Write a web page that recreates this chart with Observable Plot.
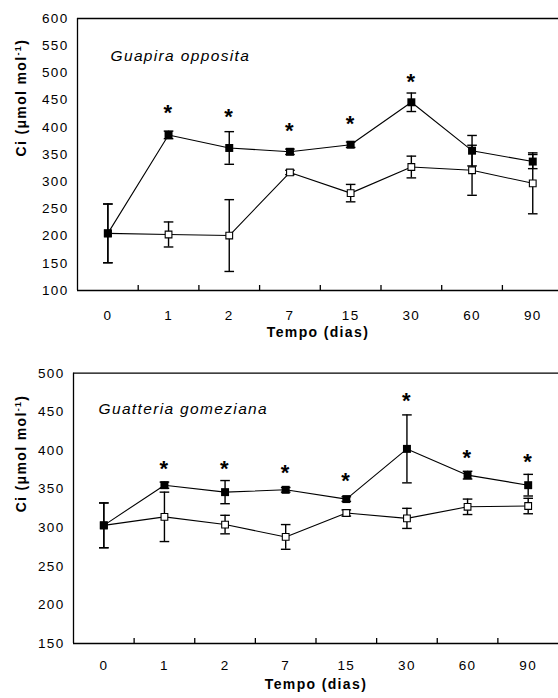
<!DOCTYPE html>
<html><head><meta charset="utf-8">
<script src="https://cdn.jsdelivr.net/npm/d3@7"></script>
<script src="https://cdn.jsdelivr.net/npm/@observablehq/plot@0.6"></script>
<style>
html,body{margin:0;padding:0;background:#fff;overflow:hidden}
#chart svg{display:block}
</style></head><body><div id="chart"></div>
<script>
const days = ["0","1","2","7","15","30","60","90"];

const guapiraStressed    = [205, 386, 362, 355, 368, 446, 357, 337];
const guapiraStressedErr = [54, 7, 30, 5, 5, 17, 28, 13];
const guapiraControl     = [205, 203, 201, 317, 279, 327, 321, 297];
const guapiraControlErr  = [54, 23, 66, 4, 16, 20, 46, 56];
const guapiraStars       = [null, 437, 429, 403, 417, 493, null, null];

const guatteriaStressed    = [303, 355, 346, 349, 337, 402, 368, 355];
const guatteriaStressedErr = [29, 4, 15, 3, 3, 44, 5, 14];
const guatteriaControl     = [303, 314, 304, 288, 319, 312, 327, 328];
const guatteriaControlErr  = [29, 32, 12, 16, 4, 13, 10, 10];
const guatteriaStars       = [null, 383, 383, 378, 367, 471, 397, 392];

const guapiraTicks = d3.range(100, 601, 50);
const guatteriaTicks = d3.range(150, 501, 50);

const yLabel = "Ci (μmol mol-1)";
const xLabel = "Tempo (dias)";

const cap = {draw(ctx, size){ const w = Math.sqrt(size/Math.PI); ctx.moveTo(-w,0); ctx.lineTo(w,0); }};

function panel(o){
  const ctrl = days.map((d,i)=>({i, mean:o.control[i], err:o.controlErr[i]}));
  const str = days.map((d,i)=>({i, mean:o.stressed[i], err:o.stressedErr[i]}));
  const all = ctrl.concat(str);
  const stars = days.map((d,i)=>({i, y:o.stars[i]})).filter(d=>d.y!=null);
  const [y0,y1] = o.yDomain;
  const svg = Plot.plot({
    width: 558, height: o.height,
    marginTop: o.marginTop, marginBottom: o.marginBottom, marginLeft: o.marginLeft, marginRight: 0,
    style: {fontFamily: "'Liberation Sans', Arial, sans-serif", fontSize: "13.5px", color: "#000", background: "#fff", letterSpacing: "0.1em", overflow: "hidden"},
    x: {type: "linear", domain: [-0.5, days.length - 0.5], range: o.xRange, label: null},
    y: {domain: o.yDomain, label: null},
    marks: [
      Plot.axisY({ticks: o.yTicks, tickSize: 0, tickPadding: 9, label: null, fontSize: 13.5}),
      Plot.axisX(d3.range(days.length), {tickSize: 0, tickPadding: o.xPad, tickFormat: i => days[i], label: null, fontSize: 13.5}),
      Plot.ruleY([y1], {strokeWidth: 1.3}),
      Plot.ruleY([y0], {strokeWidth: 1.3}),
      Plot.ruleX([-0.5], {strokeWidth: 1.3}),
      Plot.ruleX(d3.range(0.5, days.length - 1, 1), {y1: y0, y2: y0, insetBottom: 5, strokeWidth: 1.3}),
      Plot.line(ctrl, {x: "i", y: "mean", stroke: "black", strokeWidth: 1.1}),
      Plot.line(str, {x: "i", y: "mean", stroke: "black", strokeWidth: 1.1}),
      Plot.ruleX(all, {x: "i", y1: d => d.mean - d.err, y2: d => d.mean + d.err, strokeWidth: 1.4}),
      Plot.dot(all, {x: "i", y: d => d.mean - d.err, symbol: cap, r: 4.8, stroke: "black", strokeWidth: 1.4}),
      Plot.dot(all, {x: "i", y: d => d.mean + d.err, symbol: cap, r: 4.8, stroke: "black", strokeWidth: 1.4}),
      Plot.dot(ctrl, {x: "i", y: "mean", symbol: "square", r: 3.8, fill: "white", stroke: "black", strokeWidth: 1.1}),
      Plot.dot(str, {x: "i", y: "mean", symbol: "square", r: 4.5, fill: "black"}),
      Plot.text(stars, {x: "i", y: "y", text: () => "*", fontSize: 22, fontWeight: "bold", dy: 5.5}),
      Plot.text([o.title], {frameAnchor: "top-left", dx: o.titleDx, dy: o.titleDy, fontSize: 15.5, fontStyle: "italic", textAnchor: "start"}),
      Plot.text([yLabel], {frameAnchor: "left", rotate: -90, dx: o.yLabelDx, dy: o.yLabelDy, fontSize: 14, fontWeight: "bold"}),
      Plot.text([xLabel], {frameAnchor: "bottom", dy: o.xLabelDy, fontSize: 14, fontWeight: "bold"})
    ]
  });
  d3.select(svg).selectAll("text").filter(function(){ return this.textContent === yLabel; }).each(function(){
    const t = d3.select(this);
    t.text(null);
    t.append("tspan").text("Ci (μmol mol");
    t.append("tspan").attr("font-size", 9).attr("dy", -5).text("-1");
    t.append("tspan").attr("dy", 5).text(")");
  });
  return svg;
}

const root = document.getElementById("chart");
root.append(panel({
  stressed: guapiraStressed, stressedErr: guapiraStressedErr,
  control: guapiraControl, controlErr: guapiraControlErr,
  stars: guapiraStars, title: "Guapira opposita",
  yDomain: [100, 600], yTicks: guapiraTicks,
  height: 350, marginTop: 18, marginBottom: 60, marginLeft: 77, xRange: [77, 562.6],
  xPad: 20, titleDx: 33, titleDy: 31, yLabelDx: -55.5, yLabelDy: 2, xLabelDy: 46.5
}));
root.append(panel({
  stressed: guatteriaStressed, stressedErr: guatteriaStressedErr,
  control: guatteriaControl, controlErr: guatteriaControlErr,
  stars: guatteriaStars, title: "Guatteria gomeziana",
  yDomain: [150, 500], yTicks: guatteriaTicks,
  height: 348, marginTop: 22.7, marginBottom: 55, marginLeft: 73, xRange: [73, 558],
  xPad: 17, titleDx: 25, titleDy: 29.8, yLabelDx: -52, yLabelDy: 4, xLabelDy: 45.8
}));
</script>
</body></html>
